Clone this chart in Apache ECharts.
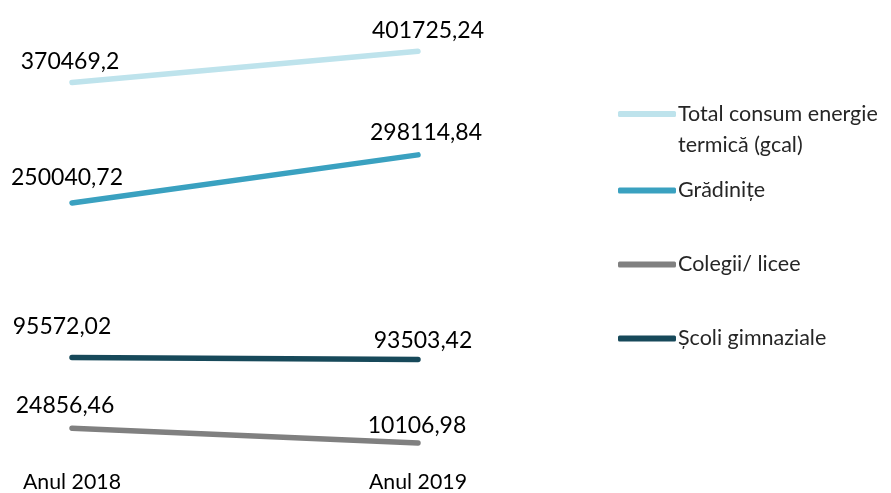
<!DOCTYPE html>
<html>
<head>
<meta charset="utf-8">
<script src="https://cdn.jsdelivr.net/npm/echarts@6/dist/echarts.min.js"></script>
<style>html,body{margin:0;padding:0;background:#fff}#c{width:891px;height:493px}</style>
</head>
<body>
<div id="c"></div>
<script>
const categories = ['Anul 2018', 'Anul 2019'];
const seriesNames = ['Total consum energie termică (gcal)', 'Grădinițe', 'Colegii/ licee', 'Școli gimnaziale'];
const totalValues = [370469.2, 401725.24];
const gradiniteValues = [250040.72, 298114.84];
const colegiiValues = [24856.46, 10106.98];
const scoliValues = [95572.02, 93503.42];

const colors = ['#bee3ec', '#3aa1c0', '#808080', '#17495a'];
// label placement tweaks [dx, dy] per point (styling only)
const labelTweaks = [
  [[-2, -8], [10, -8]],
  [[-5, -13], [8, -10]],
  [[-7, -10], [-1, -5]],
  [[-10, -18], [5, -6]]
];
const allValues = [totalValues, gradiniteValues, colegiiValues, scoliValues];
const fontFam = 'Lato, "Open Sans", sans-serif';

const series = seriesNames.map((name, i) => ({
  name: name,
  type: 'line',
  data: allValues[i].map((v, j) => ({
    value: v,
    label: { offset: labelTweaks[i][j] }
  })),
  symbol: 'circle',
  symbolSize: 2,
  showSymbol: true,
  lineStyle: { color: colors[i], width: 5.5, cap: 'round' },
  itemStyle: { color: colors[i], borderWidth: 0 },
  label: {
    show: true,
    position: 'top',
    distance: 0,
    fontFamily: fontFam,
    fontSize: 23,
    color: '#000',
    formatter: p => String(p.value).replace('.', ',')
  },
  z: 2
}));

const legendTops = [67.5, 175, 249, 323];
const legends = seriesNames.map((name, i) => ({
  data: [name],
  orient: 'vertical',
  left: 618,
  top: legendTops[i],
  padding: 0,
  itemWidth: 58,
  itemHeight: 6,
  itemGap: 0,
  icon: 'roundRect',
  selectedMode: false,
  formatter: n => n === seriesNames[0] ? ' \nTotal consum energie\ntermică (gcal)' : n,
  textStyle: {
    fontFamily: fontFam,
    fontSize: 21.5,
    color: '#262626',
    lineHeight: 31,
    padding: [0, 0, 0, -3]
  }
}));

const chart = echarts.init(document.getElementById('c'));
chart.setOption({
  animation: false,
  grid: { left: 72, right: 473, top: 3, bottom: 40 },
  xAxis: {
    type: 'category',
    data: categories,
    boundaryGap: false,
    axisLine: { show: false },
    axisTick: { show: false },
    splitLine: { show: false },
    axisLabel: { fontFamily: fontFam, fontSize: 21.3, color: '#000', margin: 19 }
  },
  yAxis: {
    type: 'value',
    min: 0,
    max: 450000,
    show: false,
    splitLine: { show: false }
  },
  legend: legends,
  series: series
});
</script>
</body>
</html>
